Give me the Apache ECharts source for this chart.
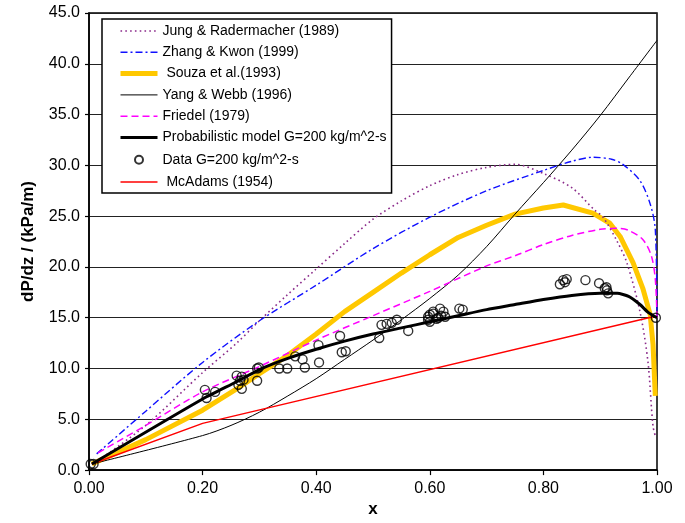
<!DOCTYPE html>
<html>
<head>
<meta charset="utf-8">
<title>Two-phase pressure gradient vs quality</title>
<script src="https://cdn.jsdelivr.net/npm/echarts@6/dist/echarts.min.js"></script>
<style>
  html, body { margin: 0; padding: 0; background: #fff; }
  #chart { width: 685px; height: 523px; }
</style>
</head>
<body>
<div id="chart"></div>
<script>
// Pressure gradient dP/dz (kPa/m) against vapour quality x, G = 200 kg/m^2-s

const seriesNames = [
  'Jung & Radermacher (1989)',
  'Zhang & Kwon (1999)',
  ' Souza et al.(1993)',
  'Yang & Webb (1996)',
  'Friedel (1979)',
  'Probabilistic model G=200 kg/m^2-s',
  'Data G=200 kg/m^2-s',
  ' McAdams (1954)'
];

const jungRadermacher = [
  [0.01, 0.7], [0.1, 4.4], [0.2, 9.6], [0.26, 12.5], [0.3, 14.7], [0.35, 17.3],
  [0.4, 19.8], [0.45, 22.3], [0.5, 24.7], [0.55, 26.5], [0.6, 28.0], [0.65, 29.1],
  [0.7, 29.8], [0.75, 30.1], [0.8, 29.2], [0.85, 27.8], [0.89, 25.6], [0.905, 24.9],
  [0.93, 22.5], [0.947, 20.4], [0.97, 15.6], [0.984, 10.7], [0.993, 4.3], [0.998, 3.2]
];

const zhangKwon = [
  [0.0135, 1.6], [0.1, 5.8], [0.2, 10.6], [0.3, 14.7], [0.4, 18.2], [0.5, 21.8],
  [0.6, 24.9], [0.7, 27.5], [0.8, 29.5], [0.85, 30.4], [0.888, 30.8], [0.92, 30.6],
  [0.94, 30.1], [0.97, 28.5], [0.988, 26.2], [0.997, 23.7], [1.0, 15.0]
];

const souza = [
  [0.005, 0.6], [0.1, 3.0], [0.2, 5.9], [0.26, 8.0], [0.3, 9.5], [0.35, 11.3],
  [0.4, 13.4], [0.45, 15.6], [0.5, 17.5], [0.55, 19.4], [0.6, 21.2], [0.65, 22.9],
  [0.7, 24.1], [0.75, 25.2], [0.8, 25.8], [0.835, 26.1], [0.887, 25.3], [0.917, 24.3],
  [0.935, 23.0], [0.958, 20.4], [0.975, 17.9], [0.988, 15.3], [0.993, 12.4], [0.997, 7.3]
];

const yangWebb = [
  [0.005, 0.6], [0.2, 3.4], [0.25, 4.4], [0.3, 5.7], [0.35, 7.3], [0.4, 9.0],
  [0.45, 10.9], [0.5, 12.8], [0.55, 14.8], [0.6, 16.9], [0.65, 19.2], [0.7, 22.0],
  [0.75, 25.2], [0.8, 28.3], [0.85, 31.5], [0.9, 34.9], [0.95, 38.6], [1.0, 42.3]
];

const friedel = [
  [0.016, 1.7], [0.1, 4.4], [0.2, 7.7], [0.3, 10.2], [0.4, 12.8], [0.5, 15.2],
  [0.6, 17.6], [0.7, 20.1], [0.75, 21.1], [0.8, 22.2], [0.85, 23.1], [0.9, 23.7],
  [0.93, 23.8], [0.95, 23.6], [0.975, 22.7], [0.99, 21.1], [0.997, 18.8], [1.0, 15.0]
];

const probabilisticModel = [
  [0.005, 0.6], [0.2, 7.0], [0.26, 8.7], [0.3, 9.9], [0.35, 11.0], [0.4, 11.9],
  [0.45, 12.7], [0.5, 13.4], [0.55, 14.0], [0.6, 14.6], [0.65, 15.2], [0.7, 15.8],
  [0.75, 16.3], [0.8, 16.8], [0.85, 17.2], [0.9, 17.4], [0.93, 17.4], [0.95, 17.1],
  [0.97, 16.3], [0.985, 15.5], [1.0, 15.0]
];

const measured = [
  [0.003, 0.6], [0.008, 0.6], [0.204, 7.9], [0.207, 7.1], [0.222, 7.7],
  [0.26, 9.3], [0.263, 8.4], [0.266, 8.8], [0.269, 9.2], [0.269, 8.0], [0.272, 8.9],
  [0.296, 8.8], [0.296, 10.0], [0.299, 10.1], [0.335, 10.0], [0.349, 10.0],
  [0.363, 11.2], [0.376, 10.9], [0.38, 10.1], [0.404, 12.3], [0.405, 10.6],
  [0.442, 13.2], [0.445, 11.6], [0.452, 11.7], [0.511, 13.0], [0.515, 14.3],
  [0.524, 14.4], [0.533, 14.5], [0.542, 14.8], [0.562, 13.7], [0.597, 14.8],
  [0.597, 15.1], [0.6, 15.3], [0.6, 14.6], [0.606, 15.6], [0.606, 15.4],
  [0.612, 14.9], [0.615, 15.0], [0.618, 15.9], [0.62, 15.2], [0.624, 15.6],
  [0.627, 15.1], [0.652, 15.9], [0.658, 15.8], [0.829, 18.3], [0.835, 18.7],
  [0.838, 18.5], [0.841, 18.8], [0.874, 18.7], [0.898, 18.4], [0.908, 17.9],
  [0.911, 18.0], [0.912, 17.7], [0.914, 17.4], [0.998, 15.0]
];

const mcAdams = [
  [0.005, 0.6], [0.2, 4.6], [0.993, 15.1]
];

const FONT = '"Liberation Sans", Arial, Helvetica, sans-serif';

// stroke widths per series, in seriesNames order (null for the scatter)
const strokeWidths = [1.6, 1.4, 5, 1, 1.5, 3, null, 1.5];

// legend ring for the measured points: a small circle inside a larger empty box
const LEGEND_RING = 'path://M0,0M14,14M3,7A4,4,0,1,1,11,7A4,4,0,1,1,3,7Z';

function curve(idx, data, color, type, extra) {
  return Object.assign({
    name: seriesNames[idx],
    type: 'line',
    data: data,
    symbol: 'none',
    showSymbol: false,
    lineStyle: { color: color, width: strokeWidths[idx], type: type, cap: 'butt' },
    itemStyle: { color: color, opacity: 0 },
    emphasis: { disabled: true },
    animation: false
  }, extra || {});
}

// legend entries: line series show only their stroke, the data series its circle
const legendData = seriesNames.map((n, i) => (
  strokeWidths[i] === null
    ? { name: n, icon: LEGEND_RING }
    : { name: n, itemStyle: { opacity: 0 }, lineStyle: { width: strokeWidths[i] } }
));

const chart = echarts.init(document.getElementById('chart'), null, { renderer: 'canvas' });

chart.setOption({
  backgroundColor: '#fff',
  animation: false,
  grid: {
    left: 89, top: 13, width: 568, height: 465,
    show: true, borderColor: '#000', borderWidth: 1.5, backgroundColor: 'transparent'
  },
  legend: {
    data: legendData,
    orient: 'vertical',
    left: 102, top: 19,
    padding: [5, 5, 4, 16],
    itemWidth: 37, itemHeight: 14, itemGap: 7.3,
    borderColor: '#000', borderWidth: 1.5,
    backgroundColor: '#fff',
    selectedMode: false,
    textStyle: { fontFamily: FONT, fontSize: 14, color: '#000' }
  },
  xAxis: {
    type: 'value', min: 0, max: 1, interval: 0.2,
    name: 'x', nameLocation: 'middle', nameGap: 25,
    nameTextStyle: { fontFamily: FONT, fontSize: 17, fontWeight: 'bold', color: '#000' },
    axisLine: { onZero: false, lineStyle: { color: '#000', width: 1.5 } },
    axisTick: { show: true, inside: false, length: 5, lineStyle: { color: '#000', width: 1.2 } },
    axisLabel: {
      fontFamily: FONT, fontSize: 16, color: '#000', margin: 10,
      formatter: v => v.toFixed(2)
    },
    splitLine: { show: false }
  },
  yAxis: {
    type: 'value', min: 0, max: 45, interval: 5,
    name: 'dP/dz / (kPa/m)', nameLocation: 'middle', nameGap: 52, nameRotate: 90,
    nameTextStyle: { fontFamily: FONT, fontSize: 17, fontWeight: 'bold', color: '#000' },
    axisLine: { onZero: false, lineStyle: { color: '#000', width: 1.5 } },
    axisTick: { show: true, inside: false, length: 4, lineStyle: { color: '#000', width: 1.2 } },
    axisLabel: {
      fontFamily: FONT, fontSize: 16, color: '#000', margin: 9,
      formatter: v => v.toFixed(1)
    },
    splitLine: { show: true, lineStyle: { color: '#222', width: 1.2 } }
  },
  series: [
    curve(0, jungRadermacher, '#8a2a8a', [1.6, 3.2], { smooth: 0.3, z: 3 }),
    curve(1, zhangKwon, '#1010ff', [7, 3, 2, 3], { smooth: 0.3, z: 3 }),
    curve(2, souza, '#ffc800', 'solid', { z: 2 }),
    curve(3, yangWebb, '#000', 'solid', { smooth: 0.3, z: 3 }),
    curve(4, friedel, '#ff00ff', [7, 4], { smooth: 0.3, z: 3 }),
    curve(5, probabilisticModel, '#000', 'solid', { smooth: 0.2, z: 4 }),
    {
      name: seriesNames[6],
      type: 'scatter',
      data: measured,
      symbol: 'circle',
      symbolSize: 9,
      itemStyle: { color: 'rgba(255,255,255,0)', borderColor: '#000', borderWidth: 1.4 },
      emphasis: { disabled: true },
      z: 5
    },
    curve(7, mcAdams, '#ff0000', 'solid', { z: 3 })
  ]
});
</script>
</body>
</html>
